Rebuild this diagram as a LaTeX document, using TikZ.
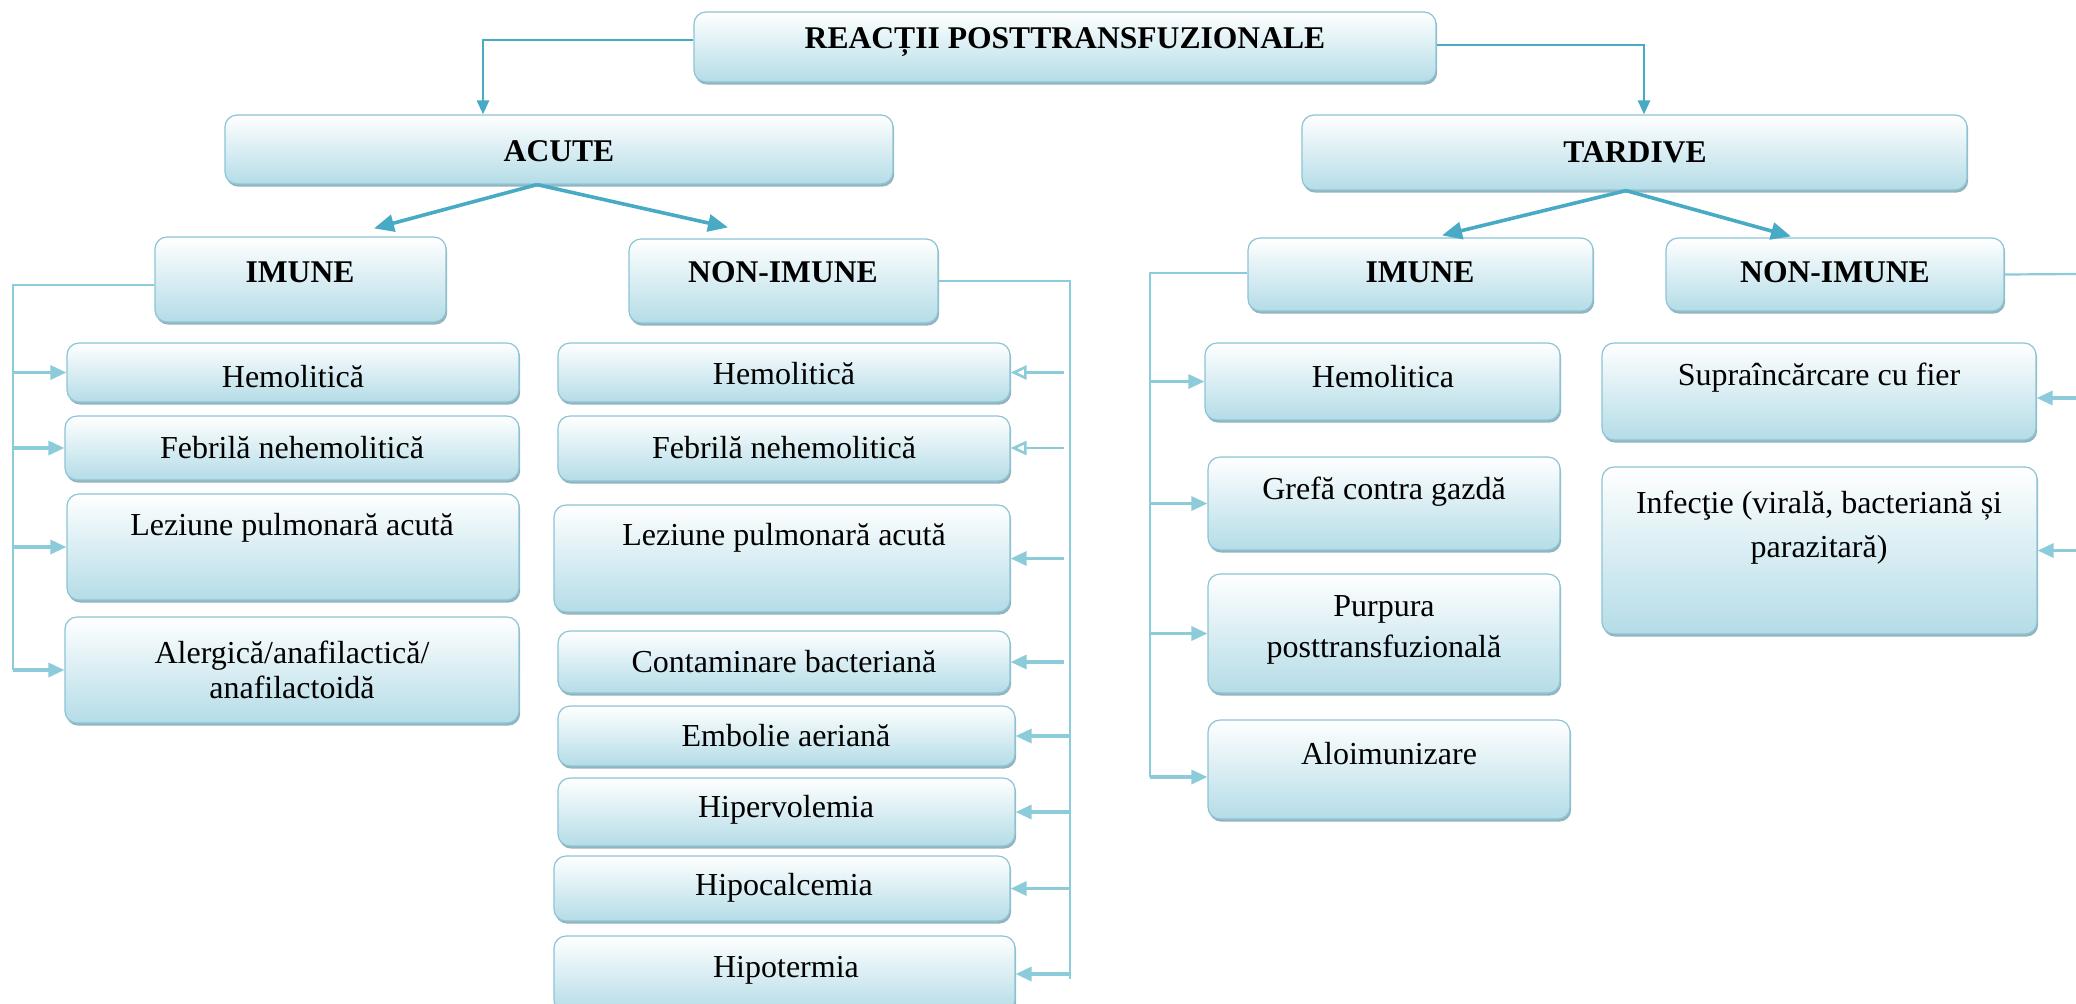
\documentclass[tikz,border=0pt]{standalone}
\usepackage{fontspec}
\setmainfont{Liberation Serif}
\usetikzlibrary{arrows.meta,shadows}
\definecolor{boxblue}{RGB}{180,220,231}
\definecolor{boxedge}{RGB}{140,196,213}
\definecolor{tealc}{RGB}{72,170,196}
\definecolor{busblue}{RGB}{140,203,218}
\definecolor{shadowc}{RGB}{128,166,178}
\newcommand\mybox[5]{%
  \pgfmathsetmacro\bw{(#4-#2)*0.5}%
  \pgfmathsetmacro\bh{(#5-#3)*0.5}%
  \node[box, minimum width=\bw pt, minimum height=\bh pt] (#1) at ({(#2+#4)/2},{(#3+#5)/2}) {};}
\begin{document}
\begin{tikzpicture}[x=0.5pt,y=-0.5pt,
  box/.style={draw=boxedge, line width=0.6pt, rounded corners=6pt,
    top color=white, bottom color=boxblue, inner sep=0pt,
    drop shadow={shadow xshift=0.6pt, shadow yshift=-1.3pt, fill=shadowc, opacity=0.85}},
  txt/.style={font=\fontsize{16}{19}\selectfont, inner sep=0pt, align=center},
  hdr/.style={font=\fontsize{15.8}{18}\selectfont\bfseries, inner sep=0pt},
  mainarr/.style={draw=tealc, line width=1.8pt, -{Triangle[length=10pt,width=8.5pt]}},
  toparr/.style={draw=tealc, line width=1.3pt, -{Triangle[length=7pt,width=6pt]}},
  bus/.style={draw=busblue, line width=1.1pt},
  busarr/.style={draw=busblue, line width=1.6pt, -{Triangle[length=8pt,width=7pt]}},
  busopen/.style={draw=busblue, line width=1.3pt, -{Triangle[open,length=8pt,width=7pt]}},
]
\useasboundingbox (0,0) rectangle (2076,1003);

% ---------- header boxes
\mybox{R}{694}{12}{1436}{82}
\node[hdr] (Rt) at (1065,42) {REACȚII POSTTRANSFUZIONALE};
\mybox{A}{225}{115}{893}{184}
\node[hdr] (At) at (559,151) {ACUTE};
\mybox{T}{1302}{115}{1967}{190}
\node[hdr] (Tt) at (1635,152) {TARDIVE};
\mybox{AI}{155}{237}{446}{322}
\node[hdr] (AIt) at (300,272) {IMUNE};
\mybox{ANI}{629}{239}{938}{323}
\node[hdr] (ANIt) at (783,272) {NON-IMUNE};
\mybox{TI}{1248}{238}{1593}{311}
\node[hdr] (TIt) at (1420,272) {IMUNE};
\mybox{TNI}{1666}{238}{2004}{311}
\node[hdr] (TNIt) at (1835,272) {NON-IMUNE};

% ---------- acute imune
\mybox{a1}{67}{343}{519}{402}
\node[txt] (a1t) at (293,377) {Hemolitică};
\mybox{a2}{65}{416}{519}{480}
\node[txt] (a2t) at (292,448) {Febrilă nehemolitică};
\mybox{a3}{67}{494}{519}{600}
\node[txt] (a3t) at (292,528) {Leziune pulmonară acută};
\mybox{a4}{65}{617}{519}{723}
\node[txt, font=\fontsize{16}{17.5}\selectfont] (a4t) at (292,670) {Alergică/anafilactică/\\anafilactoidă};

% ---------- acute non-imune
\mybox{b1}{558}{343}{1010}{402}
\node[txt] (b1t) at (784,374) {Hemolitică};
\mybox{b2}{558}{416}{1010}{481}
\node[txt] (b2t) at (784,448) {Febrilă nehemolitică};
\mybox{b3}{554}{505}{1010}{612}
\node[txt] (b3t) at (784,538) {Leziune pulmonară acută};
\mybox{b4}{558}{631}{1010}{693}
\node[txt] (b4t) at (784,662) {Contaminare bacteriană};
\mybox{b5}{558}{706}{1015}{766}
\node[txt] (b5t) at (786,736) {Embolie aeriană};
\mybox{b6}{558}{778}{1015}{846}
\node[txt] (b6t) at (786,810) {Hipervolemia};
\mybox{b7}{554}{856}{1010}{921}
\node[txt] (b7t) at (784,888) {Hipocalcemia};
\mybox{b8}{554}{936}{1015}{1012}
\node[txt] (b8t) at (786,970) {Hipotermia};

% ---------- tardive imune
\mybox{c1}{1205}{343}{1560}{420}
\node[txt] (c1t) at (1383,377) {Hemolitica};
\mybox{c2}{1208}{457}{1560}{550}
\node[txt] (c2t) at (1384,492) {Grefă contra gazdă};
\mybox{c3}{1208}{574}{1560}{693}
\node[txt, font=\fontsize{16}{20.5}\selectfont] (c3t) at (1384,630) {Purpura\\posttransfuzională};
\mybox{c4}{1208}{720}{1570}{819}
\node[txt] (c4t) at (1389,754) {Aloimunizare};

% ---------- tardive non-imune
\mybox{d1}{1602}{343}{2036}{440}
\node[txt] (d1t) at (1819,378) {Supraîncărcare cu fier};
\mybox{d2}{1602}{467}{2037}{634}
\node[txt, font=\fontsize{16}{22}\selectfont] (d2t) at (1819,528) {Infecţie (virală, bacteriană și\\parazitară)};

% ---------- top connectors
\draw[toparr] ([yshift=3.5pt]R.west) -| ([xshift=-38pt]A.north);
\draw[toparr] ([yshift=1pt]R.east) -| ([xshift=4.75pt]T.north);

% ---------- main arrows
\draw[mainarr] ([xshift=-11pt]A.south) -- ([xshift=36.75pt,yshift=4pt]AI.north);
\draw[mainarr] ([xshift=-11pt]A.south) -- ([xshift=-27.75pt,yshift=5.5pt]ANI.north);
\draw[mainarr] ([xshift=-4.25pt]T.south) -- ([xshift=10.75pt,yshift=1pt]TI.north);
\draw[mainarr] ([xshift=-4.25pt]T.south) -- ([xshift=-22pt,yshift=0.5pt]TNI.north);

% ---------- acute imune bus
\coordinate (aib) at (13,285);
\draw[bus] ([yshift=-2.75pt]AI.west) -- (aib) -- (aib |- a4.west);
\foreach \n in {a1,a2,a3,a4} \draw[busarr] (aib |- \n.west) -- (\n.west);

% ---------- acute non-imune bus
\coordinate (bib) at (1070,281);
\draw[bus] (ANI.east) -- (bib) -- (1070,979);
\coordinate (bia) at (1064,281);
\draw[busopen] (bia |- b1.east) -- (b1.east);
\draw[busopen] (bia |- b2t) -- (b2.east |- b2t) ;
\draw[busarr] (bia |- b3.east) -- (b3.east);
\draw[busarr] (bia |- b4.east) -- (b4.east);
\foreach \n in {b5,b6,b7,b8} \draw[busarr] (bib |- \n.east) -- (\n.east);

% ---------- tardive imune bus
\coordinate (cib) at (1150,273);
\draw[bus] (TI.west |- cib) -- (cib) -- (1150,777);
\foreach \n in {c1,c2,c3} \draw[busarr] (cib |- \n.west) -- (\n.west);
\draw[busarr] (cib |- 0,777) -- (c4.west |- 0,777);

% ---------- tardive non-imune bus
\coordinate (dib) at (2076,274);
\draw[bus] (TNI.east) -- (dib);
\draw[busarr] (dib |- 0,398) -- (d1.east |- 0,398);
\draw[busarr] (dib |- d2.east) -- (d2.east);
\end{tikzpicture}
\end{document}
